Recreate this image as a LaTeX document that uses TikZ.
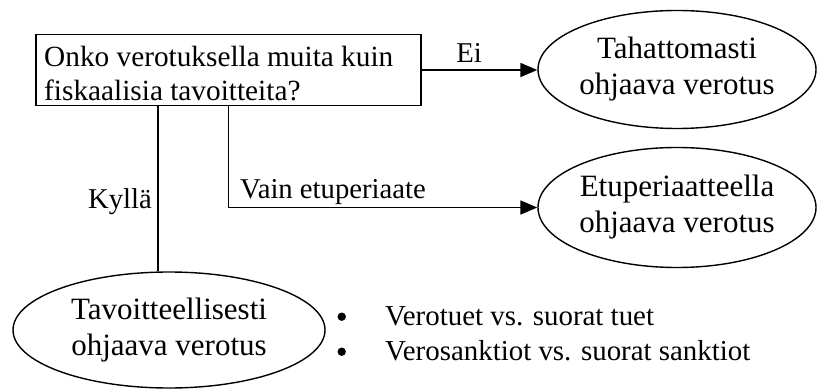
\documentclass[tikz,border=0pt]{standalone}
\usepackage{fontspec}
\setmainfont{Liberation Serif}
\usetikzlibrary{shapes.geometric,arrows.meta}
\begin{document}
\begin{tikzpicture}[x=1pt,y=-1pt,
  qbox/.style={draw,line width=1.5pt,rectangle,minimum width=385pt,minimum height=71pt,inner sep=0pt},
  oval/.style={draw,line width=1.4pt,ellipse,inner sep=0pt,align=center,font=\fontsize{31}{36}\selectfont},
  conn/.style={line width=1.8pt},
  arr/.style={conn,-{Triangle[length=17pt,width=14pt]}},
  lbl/.style={inner sep=0pt,font=\fontsize{28.7}{34}\selectfont},
  btxt/.style={inner sep=0pt,anchor=base west,font=\fontsize{28.9}{34}\selectfont}]
\useasboundingbox (0,0) rectangle (818,390);
\node[qbox] (q) at (228.5,70) {};
\node[anchor=north west,inner sep=0pt,align=left,font=\fontsize{29.3}{34}\selectfont] (qtext) at (44,46) {Onko verotuksella muita kuin\\fiskaalisia tavoitteita?};
\node[oval,minimum width=278pt,minimum height=118pt] (t) at (677,69.5) {Tahattomasti\\ohjaava verotus};
\node[oval,minimum width=278pt,minimum height=120pt] (e) at (677,207.5) {Etuperiaatteella\\ohjaava verotus};
\node[oval,minimum width=312pt,minimum height=116pt] (z) at (169,330) {Tavoitteellisesti\\ohjaava verotus};
\draw[arr] (q.east) -- (q.east -| t.west);
\draw[arr] (q.south) |- (e.west);
\coordinate (k) at (158,0);
\draw[conn] (k |- q.south) -- (k |- z.north);
\node[lbl,anchor=base] (ei) at (469,63) {Ei};
\node[lbl,anchor=base east] (ky) at (152,208) {Kyllä};
\node[lbl,anchor=base west] (va) at (240,198) {Vain etuperiaate};
\node[btxt] (b1) at (385,325) {Verotuet vs. suorat tuet};
\node[btxt] (b2) at (385,360) {Verosanktiot vs. suorat sanktiot};
\fill ([xshift=-43.3pt,yshift=8.3pt]b1.base west) circle (4.2pt);
\fill ([xshift=-43.3pt,yshift=8.3pt]b2.base west) circle (4.2pt);
\end{tikzpicture}
\end{document}
